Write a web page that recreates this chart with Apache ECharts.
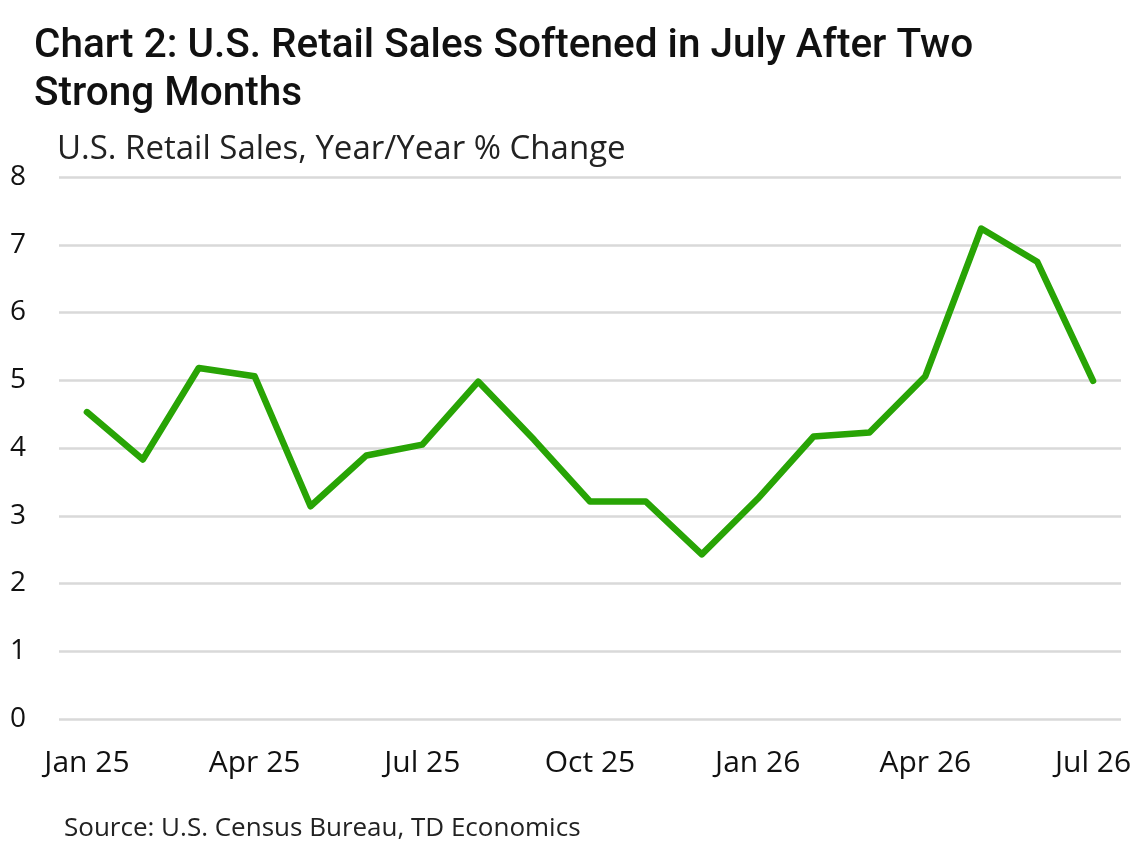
<!DOCTYPE html>
<html>
<head>
<meta charset="utf-8">
<script src="https://cdn.jsdelivr.net/npm/echarts@6/dist/echarts.min.js"></script>
<style>
html,body{margin:0;padding:0;background:#fff;}
#chart{width:1139px;height:850px;}
</style>
</head>
<body>
<div id="chart"></div>
<script>
var categories = ['Jan 25','Feb 25','Mar 25','Apr 25','May 25','Jun 25','Jul 25','Aug 25','Sep 25','Oct 25','Nov 25','Dec 25','Jan 26','Feb 26','Mar 26','Apr 26','May 26','Jun 26','Jul 26'];
var retailSalesYoY = [4.53,3.83,5.18,5.06,3.14,3.89,4.05,4.98,4.12,3.21,3.21,2.43,3.25,4.17,4.23,5.06,7.24,6.75,4.99];
var yTicks = [0,1,2,3,4,5,6,7,8];
var titleText = 'Chart 2: U.S. Retail Sales Softened in July After Two\nStrong Months';
var subtitleText = 'U.S. Retail Sales, Year/Year % Change';
var sourceText = 'Source: U.S. Census Bureau, TD Economics';

var FONT = '"Open Sans", Roboto, sans-serif';
var TITLE_FONT = 'Roboto, "Open Sans", sans-serif';
var chart = echarts.init(document.getElementById('chart'));
chart.setOption({
  backgroundColor: '#ffffff',
  animation: false,
  textStyle: { fontFamily: FONT },
  title: [
    { text: titleText, left: 29, top: 18,
      textStyle: { fontFamily: TITLE_FONT, fontSize: 40.5, fontWeight: 500, color: '#111', lineHeight: 48 } },
    { text: subtitleText, left: 52, top: 128,
      textStyle: { fontFamily: FONT, fontSize: 33, fontWeight: 'normal', color: '#222' } },
    { text: sourceText, left: 59, top: 811,
      textStyle: { fontFamily: FONT, fontSize: 26, fontWeight: 'normal', color: '#222' } }
  ],
  grid: { left: 59, right: 18, top: 177, bottom: 131, containLabel: false },
  xAxis: {
    type: 'category',
    data: categories,
    boundaryGap: true,
    axisLine: { show: false },
    axisTick: { show: false },
    axisLabel: { interval: 2, fontSize: 30, color: '#111', margin: 29, fontFamily: FONT }
  },
  yAxis: {
    type: 'value',
    min: yTicks[0],
    max: yTicks[yTicks.length - 1],
    interval: 1,
    axisLine: { show: false },
    axisTick: { show: false },
    axisLabel: { fontSize: 28, color: '#111', margin: 33, fontFamily: FONT },
    splitLine: { lineStyle: { color: '#d9d9d9', width: 2.5 } }
  },
  series: [{
    type: 'line',
    data: retailSalesYoY,
    symbol: 'none',
    lineStyle: { color: '#28a405', width: 6.5, cap: 'round', join: 'round' },
    itemStyle: { color: '#28a405' }
  }]
});
</script>
</body>
</html>
